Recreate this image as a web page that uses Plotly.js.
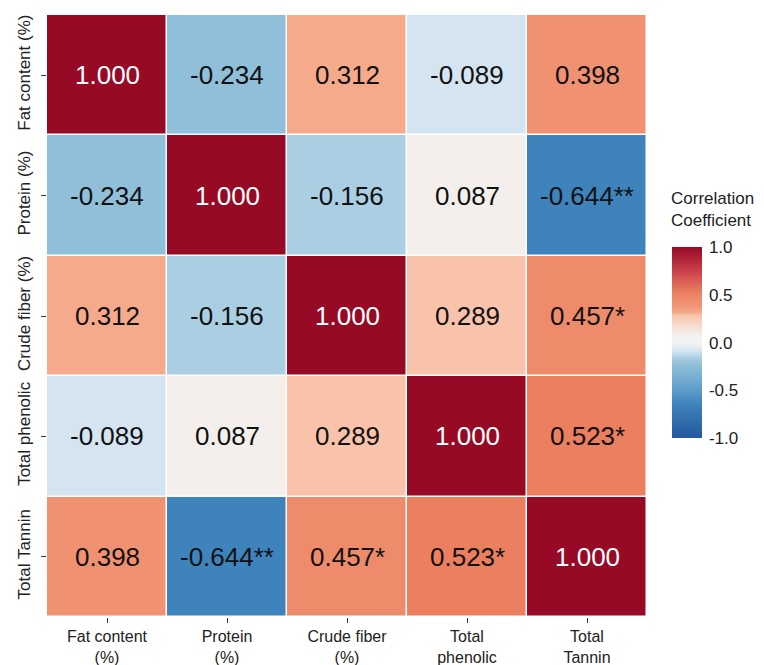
<!DOCTYPE html>
<html>
<head>
<meta charset="utf-8">
<script src="https://cdn.plot.ly/plotly-3.0.1.min.js"></script>
<style>
  html, body { margin: 0; padding: 0; background: #ffffff; }
  #chart { width: 764px; height: 665px; }
</style>
</head>
<body>
<div id="chart"></div>
<script>
// Variables of the correlation matrix
const rowLabels = ["Fat content (%)", "Protein (%)", "Crude fiber (%)", "Total phenolic", "Total Tannin"];
const colLabels = ["Fat content<br>(%)", "Protein<br>(%)", "Crude fiber<br>(%)", "Total<br>phenolic", "Total<br>Tannin"];

// Pearson correlation coefficients, one row per variable
const rFat      = [ 1.000, -0.234,  0.312, -0.089,  0.398];
const rProtein  = [-0.234,  1.000, -0.156,  0.087, -0.644];
const rFiber    = [ 0.312, -0.156,  1.000,  0.289,  0.457];
const rPhenolic = [-0.089,  0.087,  0.289,  1.000,  0.523];
const rTannin   = [ 0.398, -0.644,  0.457,  0.523,  1.000];

// Significance marks (* p<0.05, ** p<0.01)
const sigFat      = ["", "", "", "", ""];
const sigProtein  = ["", "", "", "", "**"];
const sigFiber    = ["", "", "", "", "*"];
const sigPhenolic = ["", "", "", "", "*"];
const sigTannin   = ["", "**", "*", "*", ""];

// Colour bar ticks and heading
const cbTicks = [-1, -0.5, 0, 0.5, 1];
const cbTickText = ["-1.0", "-0.5", "0.0", "0.5", "1.0"];
const cbHeading = "Correlation<br>Coefficient";

const zRows = [rFat, rProtein, rFiber, rPhenolic, rTannin];
const sigRows = [sigFat, sigProtein, sigFiber, sigPhenolic, sigTannin];

// Diverging red-blue scale over [-1, 1]
const scaleStops = [
  [-1.0,  "#23579d"],
  [-0.644,"#3f83bd"],
  [-0.5,  "#5e9bca"],
  [-0.234,"#90bfd9"],
  [-0.156,"#abcfe2"],
  [-0.089,"#d4e5f1"],
  [0.0,   "#f4f4f4"],
  [0.087, "#f4efeb"],
  [0.289, "#f8c3aa"],
  [0.312, "#f5aa8b"],
  [0.398, "#f09272"],
  [0.457, "#ee8b6b"],
  [0.523, "#eb7f5f"],
  [0.75,  "#c9404a"],
  [1.0,   "#960a26"]
];
const colorscale = scaleStops.map(s => [(s[0] + 1) / 2, s[1]]);

const FONT = "Liberation Sans, Arial, sans-serif";

// Colour bar placement (paper fractions)
const CB_X = 1.0417;
const CB_Y = 0.297;
const CB_LEN = 0.318;

const annotations = [];
zRows.forEach((row, i) => {
  row.forEach((v, j) => {
    annotations.push({
      x: colLabels[j], y: rowLabels[i], xref: "x", yref: "y",
      text: v.toFixed(3) + sigRows[i][j],
      showarrow: false,
      font: { family: FONT, size: 26, color: v >= 0.8 ? "#ffffff" : "#111111" }
    });
  });
});

// Legend heading above the colour bar
annotations.push({
  xref: "paper", yref: "paper",
  x: CB_X - 0.005, y: CB_Y + CB_LEN + 0.025,
  xanchor: "left", yanchor: "bottom",
  align: "left",
  text: cbHeading,
  showarrow: false,
  font: { family: FONT, size: 17, color: "#222" }
});

const trace = {
  type: "heatmap",
  z: zRows,
  x: colLabels,
  y: rowLabels,
  zmin: -1, zmax: 1,
  colorscale: colorscale,
  xgap: 1.5, ygap: 1.5,
  hoverinfo: "none",
  colorbar: {
    x: CB_X, xanchor: "left", xpad: 0,
    y: CB_Y, yanchor: "bottom", ypad: 0,
    len: CB_LEN, lenmode: "fraction",
    thickness: 30, thicknessmode: "pixels",
    outlinewidth: 0,
    tickvals: cbTicks, ticktext: cbTickText,
    ticks: "outside", ticklen: 4, tickcolor: "rgba(0,0,0,0)", tickwidth: 1,
    tickfont: { family: FONT, size: 17, color: "#222" }
  }
};

const layout = {
  width: 764, height: 665,
  margin: { l: 47, r: 117, t: 15, b: 48, pad: 0 },
  paper_bgcolor: "#ffffff",
  plot_bgcolor: "#ffffff",
  font: { family: FONT, color: "#222" },
  xaxis: {
    type: "category", side: "bottom",
    ticks: "outside", ticklen: 5, tickcolor: "#333", tickwidth: 1,
    showgrid: false, zeroline: false, showline: false,
    tickfont: { size: 16, color: "#222" },
    fixedrange: true
  },
  yaxis: {
    type: "category", autorange: "reversed",
    ticks: "outside", ticklen: 5, tickcolor: "#333", tickwidth: 1,
    tickangle: -90,
    ticklabelstandoff: 4,
    showgrid: false, zeroline: false, showline: false,
    tickfont: { size: 17, color: "#222" },
    fixedrange: true
  },
  annotations: annotations
};

Plotly.newPlot("chart", [trace], layout, { displayModeBar: false, staticPlot: true });
</script>
</body>
</html>
